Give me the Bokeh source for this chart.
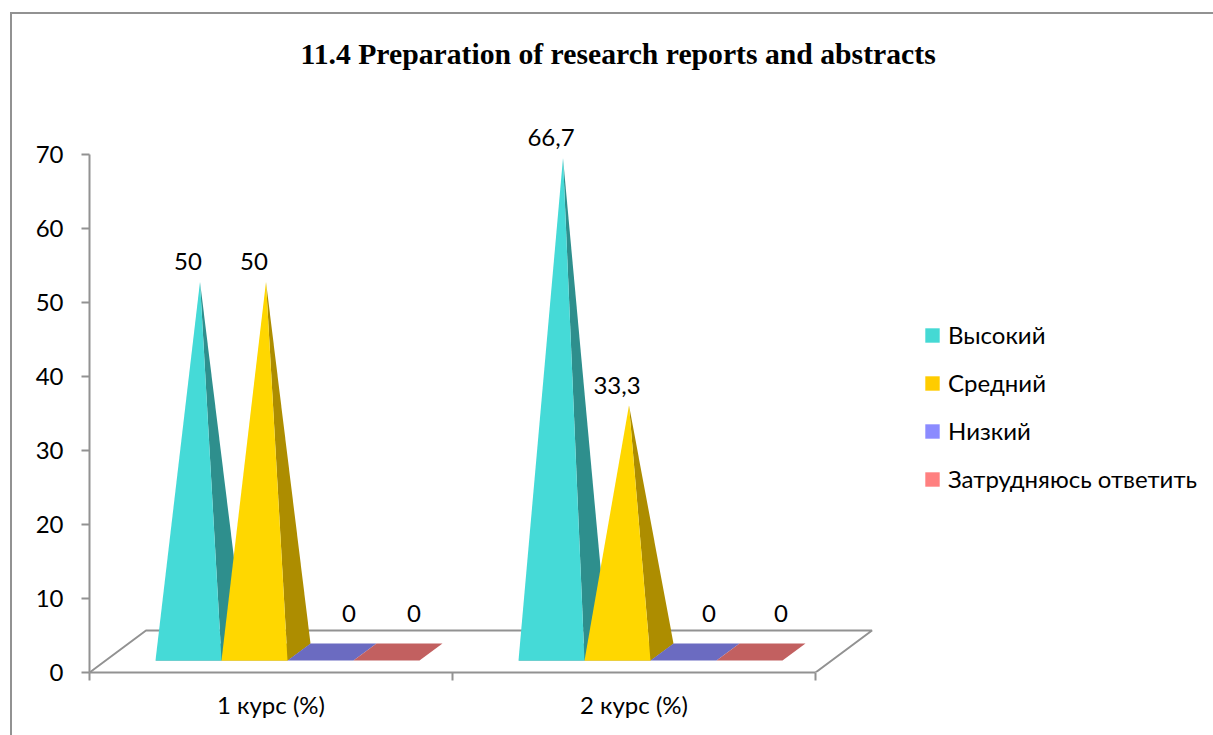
from bokeh.plotting import figure
from bokeh.models import (ColumnDataSource, FixedTicker, Legend, LegendItem,
                          Range1d, Title)
from bokeh.embed import file_html
from bokeh.resources import INLINE
from bokeh.core.properties import value

# ---- data
categories = ["1 курс (%)", "2 курс (%)"]
series_names = ["Высокий", "Средний", "Низкий", "Затрудняюсь ответить"]
course1 = [50, 50, 0, 0]
course2 = [66.7, 33.3, 0, 0]
label_texts = [["50", "50", "0", "0"], ["66,7", "33,3", "0", "0"]]
front_colors = ["#45DAD7", "#FFD700", "#6B6BC1", "#C26060"]
side_colors = ["#2E8F8D", "#AD8D00", "#6B6BC1", "#C26060"]
legend_colors = ["#45D9D4", "#FFCC00", "#8B8BFF", "#FF8080"]
y_ticks = [0, 10, 20, 30, 40, 50, 60, 70]

# ---- layout constants (pixels)
W, H = 1213, 735
LEFT, BOTTOM, TOP = 89, 63, 98
PX_X = 363.0          # pixels per category
PX_Y = 518.5 / 70     # pixels per y unit
BAR_W = 66 / PX_X
GROUP_PAD = 66 / PX_X
DX = 23 / PX_X        # bar depth
DY = 17 / PX_Y
BASE_Y = 12 / PX_Y    # front of bar base above the axis
FLOOR_DX = 56.5 / PX_X
FLOOR_DY = 42 / PX_Y
FONT = "Lato"
TXT = 24
GRAY = "#929292"

p = figure(width=W, height=H, output_backend="svg", toolbar_location=None,
           x_range=Range1d(0, (W - LEFT) / PX_X),
           y_range=Range1d(0, (H - BOTTOM - TOP) / PX_Y),
           min_border_left=LEFT, min_border_right=0, min_border_bottom=BOTTOM, min_border_top=TOP,
           background_fill_color=None, border_fill_color=None, outline_line_color=None)
p.grid.visible = False

# ---- outer chart border: only its top and left edges fall inside the page
p.styles = {
    "background-color": "white",
    "background-image": f"linear-gradient({GRAY},{GRAY}),linear-gradient({GRAY},{GRAY})",
    "background-size": "100% 2px, 2px 100%",
    "background-position": "10px 12px, 10px 12px",
    "background-repeat": "no-repeat",
}

p.title = Title(text="11.4 Preparation of research reports and abstracts", align="left", offset=211,
                text_font="Liberation Serif", text_font_style="bold", text_font_size="29.7px",
                text_color="black", standoff=58)

# ---- axes
ya = p.yaxis[0]
ya.ticker = FixedTicker(ticks=y_ticks)
ya.bounds = (0, 70)
ya.axis_line_color = GRAY
ya.axis_line_width = 2
ya.major_tick_line_color = GRAY
ya.major_tick_line_width = 2
ya.major_tick_in = 0
ya.major_tick_out = 8
ya.minor_tick_line_color = None
ya.major_label_standoff = 18
ya.major_label_text_font = FONT
ya.major_label_text_font_size = f"{TXT}px"
ya.major_label_text_color = "black"

xa = p.xaxis[0]
xa.ticker = FixedTicker(ticks=[0.5, 1.5], minor_ticks=[0, 1, 2])
xa.bounds = (0, 2)
xa.major_label_overrides = {0.5: categories[0], 1.5: categories[1]}
xa.axis_line_color = GRAY
xa.axis_line_width = 2
xa.major_tick_line_color = None
xa.major_tick_out = 0
xa.major_tick_in = 0
xa.minor_tick_line_color = GRAY
xa.minor_tick_line_width = 2
xa.minor_tick_in = 0
xa.minor_tick_out = 8
xa.major_label_standoff = 9
xa.major_label_text_font = FONT
xa.major_label_text_font_size = f"{TXT}px"
xa.major_label_text_color = "black"

# ---- floor outline
p.line([0, FLOOR_DX, 2 + FLOOR_DX, 2], [0, FLOOR_DY, FLOOR_DY, 0], line_color=GRAY, line_width=2)

# ---- pyramids
label_x, label_y, label_t, off_x, off_y = [], [], [], [], []
label_dx = [[-12, -12, 17, 16], [-12, -12, 14, 20]]
label_dy = [[-20, -20, -39, -39], [-20, -20, -39, -39]]
for g, vals in enumerate([course1, course2]):
    for s, v in enumerate(vals):
        x0 = g + GROUP_PAD + s * BAR_W
        x1 = x0 + BAR_W
        ax = (x0 + x1 + DX) / 2
        ay = BASE_Y + DY / 2 + v
        p.patch([x0, x1, x1 + DX, x0 + DX], [BASE_Y, BASE_Y, BASE_Y + DY, BASE_Y + DY],
                fill_color=side_colors[s], line_color=None)
        if v > 0:
            p.patch([x1, x1 + DX, ax], [BASE_Y, BASE_Y + DY, ay], fill_color=side_colors[s], line_color=None)
            p.patch([x0, x1, ax], [BASE_Y, BASE_Y, ay], fill_color=front_colors[s], line_color=None)
        label_x.append(ax)
        label_y.append(ay)
        label_t.append(label_texts[g][s])
        off_x.append(label_dx[g][s])
        off_y.append(label_dy[g][s])

src = ColumnDataSource(dict(x=label_x, y=label_y, t=label_t, ox=off_x, oy=off_y))
p.text("x", "y", text="t", source=src, x_offset="ox", y_offset="oy", text_align="center",
       text_baseline="middle", text_font=value(FONT), text_font_size=f"{TXT}px", text_color="black")

# ---- legend
items = []
for name, c in zip(series_names, legend_colors):
    r = p.rect([float("nan")], [float("nan")], width=1, height=1, fill_color=c, line_color=None)
    items.append(LegendItem(label=value(name), renderers=[r]))
legend = Legend(items=items, location=(834, 179), orientation="vertical", padding=0, margin=0,
                spacing=19, glyph_width=18, glyph_height=18, label_height=24, label_standoff=7,
                label_text_font=FONT, label_text_font_size=f"{TXT}px", label_text_color="black",
                background_fill_alpha=0, border_line_color=None)
p.add_layout(legend, "center")

open("out.html", "w").write(file_html(p, INLINE))
